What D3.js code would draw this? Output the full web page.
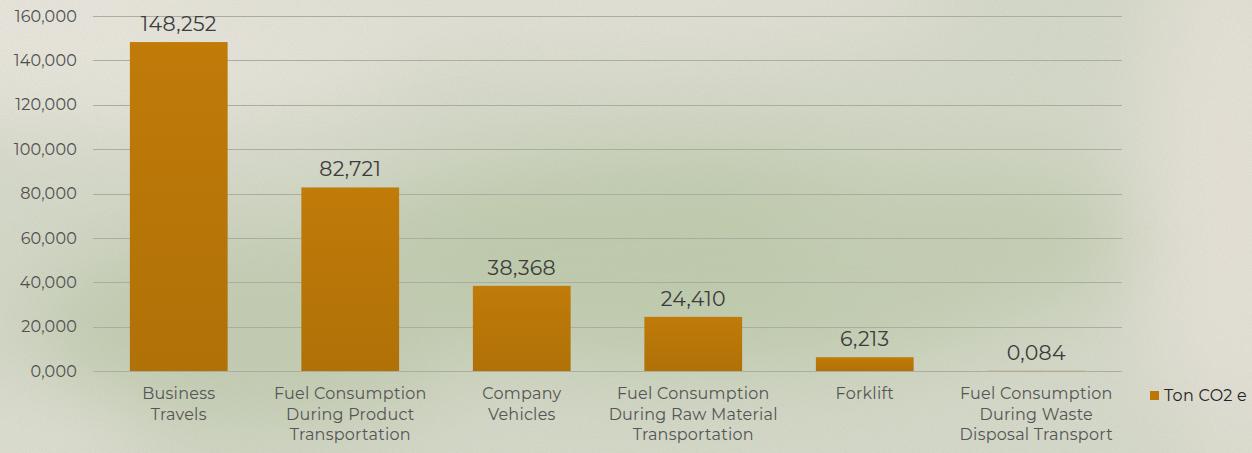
<!DOCTYPE html>
<html>
<head>
<meta charset="utf-8">
<script src="https://cdn.jsdelivr.net/npm/d3@7"></script>
<style>
  html, body { margin: 0; padding: 0; background: #e4e3d8; }
  svg { display: block; }
</style>
</head>
<body>
<svg id="chart"></svg>
<script>
// Chart data
const categories = [
    ["Business", "Travels"],
    ["Fuel Consumption", "During Product", "Transportation"],
    ["Company", "Vehicles"],
    ["Fuel Consumption", "During Raw Material", "Transportation"],
    ["Forklift"],
    ["Fuel Consumption", "During Waste", "Disposal Transport"]
];
const values = [148.252, 82.721, 38.368, 24.410, 6.213, 0.084];
const value_labels = ["148,252", "82,721", "38,368", "24,410", "6,213", "0,084"];
const tick_values = [0, 20, 40, 60, 80, 100, 120, 140, 160];
const tick_labels = ["0,000", "20,000", "40,000", "60,000", "80,000", "100,000", "120,000", "140,000", "160,000"];
const series_name = "Ton CO2 e";

// Dimensions
const width = 1252, height = 453;
const margin = { top: 16, right: 130, bottom: 82, left: 93 };
const font = "Montserrat, 'Open Sans', sans-serif";

const svg = d3.select('#chart')
    .attr('width', width)
    .attr('height', height);

// ---- Paper-like background ----
const defs = svg.append('defs');

const blur = defs.append('filter').attr('id', 'blur')
    .attr('x', '-50%').attr('y', '-50%').attr('width', '200%').attr('height', '200%');
blur.append('feGaussianBlur').attr('stdDeviation', 40);

const grain = defs.append('filter').attr('id', 'grain');
grain.append('feTurbulence')
    .attr('type', 'fractalNoise')
    .attr('baseFrequency', 0.9)
    .attr('numOctaves', 2)
    .attr('seed', 4);
grain.append('feColorMatrix')
    .attr('values', '0 0 0 0 0.35  0 0 0 0 0.38  0 0 0 0 0.3  0 0 0 0.2 0');

svg.append('rect')
    .attr('width', width).attr('height', height)
    .attr('fill', '#d7dbcb');

// soft colour patches: beige top-left / right edge, green centre
const patches = [
    { cx: 120, cy: 20, rx: 330, ry: 110, c: '#ebe8df' },
    { cx: 1230, cy: 200, rx: 90, ry: 300, c: '#e8e3da' },
    { cx: 560, cy: 0, rx: 400, ry: 60, c: '#e6e4da' },
    { cx: 700, cy: 260, rx: 380, ry: 110, c: '#c1cdaf' },
    { cx: 250, cy: 330, rx: 220, ry: 100, c: '#c4ceb3' },
    { cx: 960, cy: 240, rx: 180, ry: 80, c: '#c6d0b5' },
    { cx: 30, cy: 440, rx: 120, ry: 50, c: '#e2e2d6' },
    { cx: 1080, cy: 430, rx: 160, ry: 40, c: '#d8dccd' }
];
svg.append('g')
    .attr('filter', 'url(#blur)')
    .selectAll('ellipse')
    .data(patches)
    .enter()
    .append('ellipse')
    .attr('cx', d => d.cx).attr('cy', d => d.cy)
    .attr('rx', d => d.rx).attr('ry', d => d.ry)
    .attr('fill', d => d.c);

svg.append('rect')
    .attr('width', width).attr('height', height)
    .attr('filter', 'url(#grain)');

// ---- Scales ----
const x = d3.scaleBand()
    .domain(d3.range(categories.length))
    .range([margin.left, width - margin.right])
    .paddingInner(0.43)
    .paddingOuter(0.215);

const y = d3.scaleLinear()
    .domain([0, 160])
    .range([height - margin.bottom, margin.top]);

// Gridlines
svg.append('g')
    .selectAll('line')
    .data(tick_values)
    .enter()
    .append('line')
    .attr('x1', margin.left)
    .attr('x2', width - margin.right)
    .attr('y1', d => Math.round(y(d)) + 0.5)
    .attr('y2', d => Math.round(y(d)) + 0.5)
    .attr('stroke', '#abad9f')
    .attr('stroke-width', 1);

// Y axis labels
const y_axis = svg.append('g')
    .attr('transform', 'translate(' + (margin.left - 16) + ',0)')
    .call(d3.axisLeft(y).tickValues(tick_values).tickSize(0).tickPadding(0)
        .tickFormat((d, i) => tick_labels[i]));
y_axis.select('.domain').remove();
y_axis.selectAll('text')
    .style('font-family', font)
    .style('font-size', '16px')
    .style('letter-spacing', '0.2px')
    .attr('fill', '#505050');

// Bars
const bar_gradient = defs.append('linearGradient')
    .attr('id', 'bar-grad')
    .attr('x1', 0).attr('y1', 0).attr('x2', 0).attr('y2', 1);
bar_gradient.append('stop').attr('offset', '0%').attr('stop-color', '#c07b09');
bar_gradient.append('stop').attr('offset', '100%').attr('stop-color', '#b07107');

svg.append('g')
    .selectAll('rect')
    .data(values)
    .enter()
    .append('rect')
    .attr('x', (d, i) => x(i))
    .attr('y', d => y(d))
    .attr('width', x.bandwidth())
    .attr('height', d => y(0) - y(d))
    .attr('fill', 'url(#bar-grad)');

// Value labels above bars
svg.append('g')
    .selectAll('text')
    .data(values)
    .enter()
    .append('text')
    .attr('x', (d, i) => x(i) + x.bandwidth() / 2)
    .attr('y', d => y(d) - 11)
    .attr('text-anchor', 'middle')
    .style('font-family', font)
    .style('font-size', '20.5px')
    .style('letter-spacing', '0.3px')
    .attr('fill', '#3c3c3c')
    .text((d, i) => value_labels[i]);

// Category labels (multi-line)
const cat_labels = svg.append('g')
    .selectAll('text')
    .data(categories)
    .enter()
    .append('text')
    .attr('x', (d, i) => x(i) + x.bandwidth() / 2)
    .attr('y', y(0) + 28)
    .attr('text-anchor', 'middle')
    .style('font-family', font)
    .style('font-size', '16px')
    .style('letter-spacing', '0.25px')
    .attr('fill', '#555555');
cat_labels.selectAll('tspan')
    .data(d => d)
    .enter()
    .append('tspan')
    .attr('x', function () { return this.parentNode.getAttribute('x'); })
    .attr('dy', (d, i) => i === 0 ? 0 : 20.5)
    .text(d => d);

// Legend
const legend = svg.append('g')
    .attr('transform', 'translate(1150,391)');
legend.append('rect')
    .attr('width', 9).attr('height', 9)
    .attr('fill', '#bb760a');
legend.append('text')
    .attr('x', 14)
    .attr('y', 10)
    .style('font-family', font)
    .style('font-size', '16px')
    .style('letter-spacing', '0.3px')
    .attr('fill', '#222222')
    .text(series_name);
</script>
</body>
</html>
